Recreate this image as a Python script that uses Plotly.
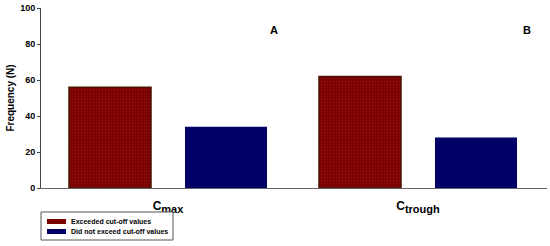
import plotly.graph_objects as go

categories = ["<b>C<sub><span style='font-size:11px'>max</span></sub></b>",
              "<b>C<sub><span style='font-size:11px'>trough</span></sub></b>"]
exceeded = [56, 62]
not_exceeded = [34, 28]
panel_labels = ["A", "B"]
legend_names = ["Exceeded cut-off values", "Did not exceed cut-off values"]
red = "#7a0000"
blue = "#000066"

fig = go.Figure()
fig.add_trace(go.Bar(
    x=categories, y=exceeded, name=legend_names[0],
    marker=dict(color=red,
                line=dict(color="#4a1400", width=1.5),
                pattern=dict(shape=".", fgcolor="#962020", size=3, solidity=0.3)),
))
fig.add_trace(go.Bar(
    x=categories, y=not_exceeded, name=legend_names[1],
    marker=dict(color=blue, line=dict(color=blue, width=0)),
))

fig.update_layout(
    width=550, height=246,
    margin=dict(l=41, r=3, t=8, b=58),
    paper_bgcolor="white", plot_bgcolor="white",
    barmode="group", bargap=0.072, bargroupgap=0.293,
    font=dict(family="Liberation Sans, Arial", size=9, color="black"),
    showlegend=False,
)
fig.update_xaxes(range=[-0.508, 1.516], showline=True, linecolor="#666666", linewidth=1,
                 ticks="", automargin=False, ticklabelstandoff=7,
                 tickfont=dict(size=12, family="Liberation Sans, Arial"))
fig.update_yaxes(range=[0, 100], dtick=20, showline=True, linecolor="#444444", linewidth=1,
                 ticks="outside", ticklen=3, tickcolor="#444444", showgrid=False, zeroline=False,
                 automargin=False,
                 tickfont=dict(size=9, family="Liberation Sans, Arial"),
                 tickprefix="<b>", ticksuffix="</b>",
                 title=dict(text="<b>Frequency (N)</b>", standoff=3,
                            font=dict(size=10, family="Liberation Sans, Arial")))

for txt, px in zip(panel_labels, [0.46, 0.972]):
    fig.add_annotation(text="<b>" + txt + "</b>", x=px, y=0.922, xref="paper", yref="paper",
                       showarrow=False, font=dict(size=11, family="Liberation Sans, Arial"))

# hand-built legend box below the plot (paper coords, plot area spans 41..547 x 8..188 px)
def px_x(p):
    return (p - 41) / 506

def px_y(p):
    return (188 - p) / 180

fig.add_shape(type="rect", xref="paper", yref="paper",
              x0=px_x(41), x1=px_x(173), y0=px_y(212), y1=px_y(240),
              line=dict(color="#555555", width=1), fillcolor="white")
for i, (name, col) in enumerate(zip(legend_names, [red, blue])):
    yc = 221.5 + i * 10
    fig.add_shape(type="rect", xref="paper", yref="paper",
                  x0=px_x(47), x1=px_x(66), y0=px_y(yc - 2.5), y1=px_y(yc + 2.5),
                  line=dict(width=0), fillcolor=col)
    fig.add_annotation(text="<b>" + name + "</b>", x=px_x(69), y=px_y(yc),
                       xref="paper", yref="paper", xanchor="left", yanchor="middle",
                       showarrow=False, font=dict(size=7, family="Liberation Sans, Arial"))

fig.write_html("out.html", config={"displayModeBar": False},
               post_script="document.body.style.margin='0';")
